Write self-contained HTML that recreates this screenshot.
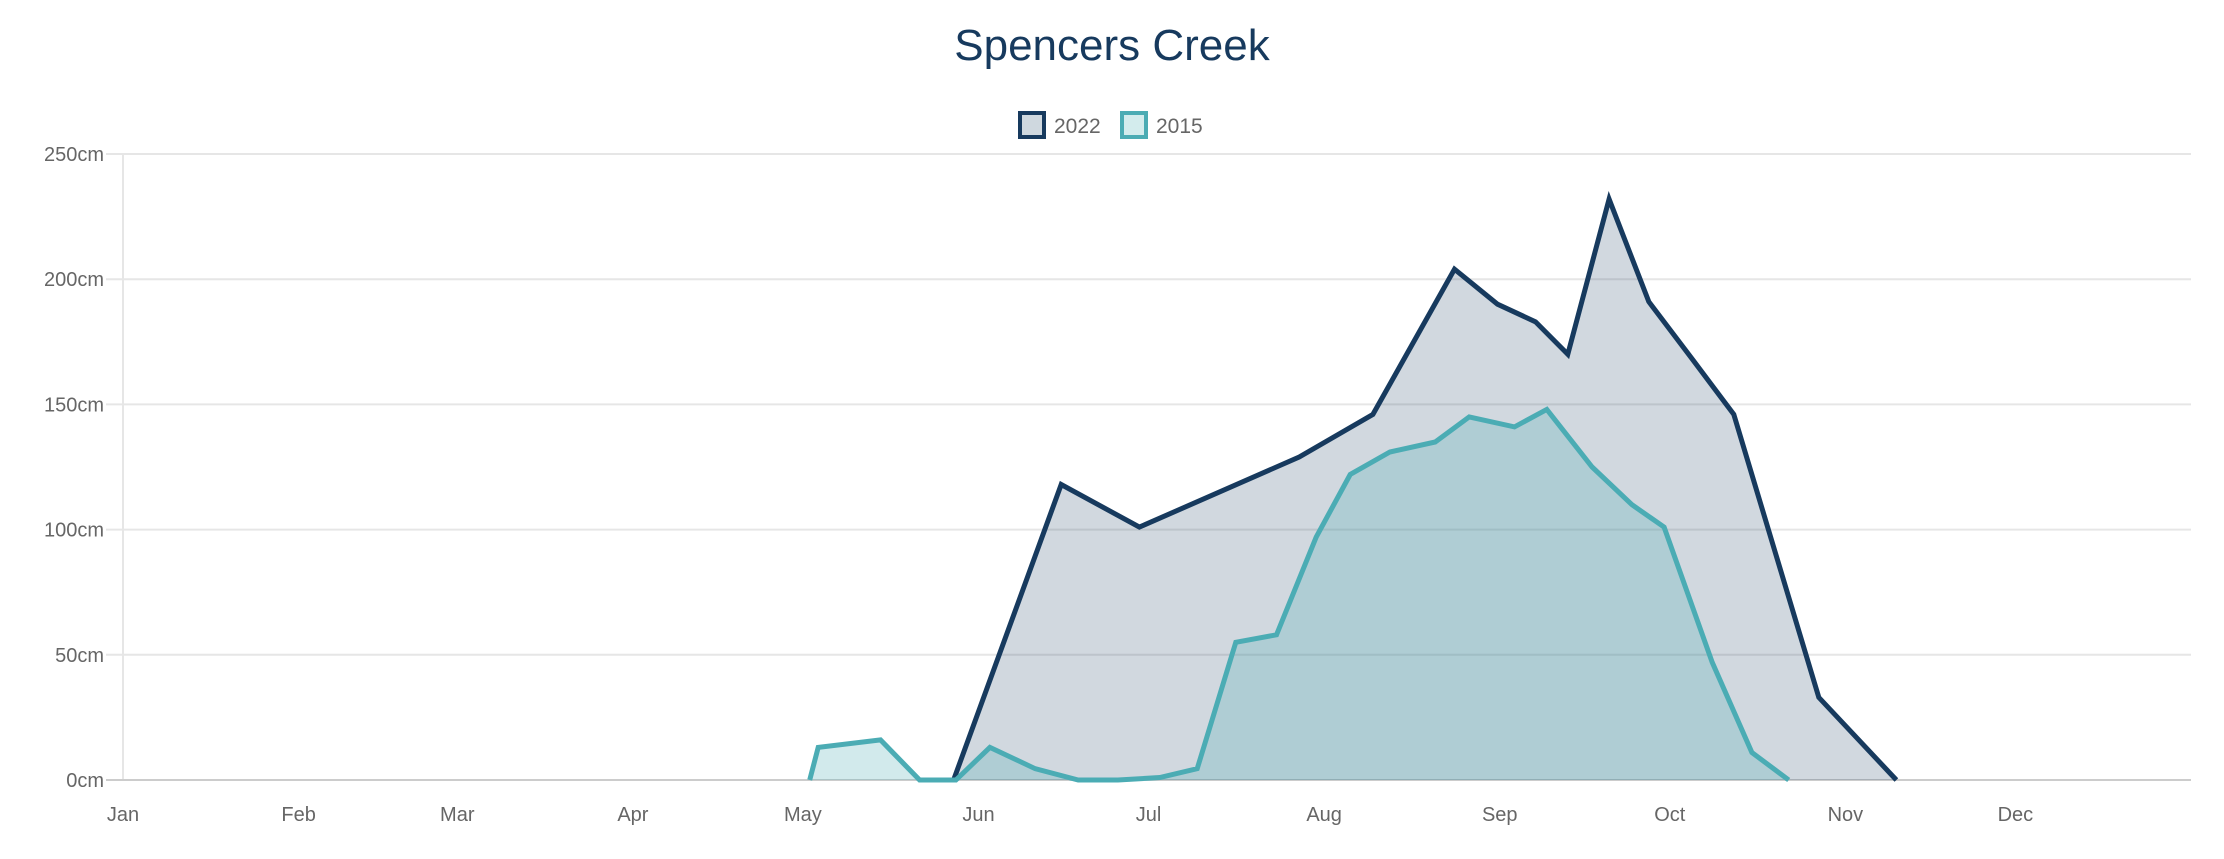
<!DOCTYPE html>
<html><head><meta charset="utf-8"><style>
html,body{margin:0;padding:0;background:#fff;}
svg{display:block;font-family:"Liberation Sans",sans-serif;}
</style></head><body>
<svg id="chart" width="2224" height="859" viewBox="0 0 2224 859" xmlns="http://www.w3.org/2000/svg">
<text x="1112" y="60" text-anchor="middle" font-size="44" fill="#173a5e">Spencers Creek</text>
<g>
 <g>
  <rect x="1020" y="113" width="24" height="24" fill="#cfd8df" stroke="#173a5e" stroke-width="4"/>
  <text x="1054" y="133" font-size="21" fill="#666">2022</text>
 </g>
 <g>
  <rect x="1122" y="113" width="24" height="24" fill="#d3eced" stroke="#4bacb4" stroke-width="4"/>
  <text x="1156" y="133" font-size="21" fill="#666">2015</text>
 </g>
</g>
<g id="grid"></g>
<g id="yaxis"></g>
<g id="xaxis"></g>
<g id="series"></g>
</svg>
<script>
const yTicks = [0, 50, 100, 150, 200, 250];
const monthLabels = ["Jan","Feb","Mar","Apr","May","Jun","Jul","Aug","Sep","Oct","Nov","Dec"];
const monthStartDays = [0,31,59,90,120,151,181,212,243,273,304,334];
const days2022 = [146.6,165.6,179.4,207.6,220.6,235,242.6,249.3,255,262.3,269.3,277,284.3,299.3,313];
const depth2022 = [0,118,101,129,146,204,190,183,170,232,191,168,146,33,0];
const days2015 = [121.2,122.7,133.7,140.6,147,153,161,168.6,175.6,183,189.6,196.4,203.6,210.6,216.6,223.6,231.6,237.6,245.6,251.3,259.3,266.3,272,280.5,287.5,294];
const depth2015 = [0,13,16,0,0,13,4.5,0,0,1,4.5,55,58,97,122,131,135,145,141,148,125,110,101,47,11,0];

const NS="http://www.w3.org/2000/svg";
const L=123,R=2191,Y0=780,YT=154;
const xS=d=>L+d*(R-L)/365;
const yS=v=>Y0-v*(Y0-YT)/250;
function mk(tag,attrs,parent){const e=document.createElementNS(NS,tag);for(const k in attrs)e.setAttribute(k,attrs[k]);parent.appendChild(e);return e;}
const grid=document.getElementById('grid'),ya=document.getElementById('yaxis'),xa=document.getElementById('xaxis'),ser=document.getElementById('series');
mk('line',{x1:L,x2:L,y1:YT,y2:Y0,stroke:'#e6e6e6','stroke-width':2},grid);
yTicks.forEach(v=>{
  const y=yS(v);
  const g=mk('line',{x1:L-17,x2:R,y1:y,y2:y,stroke:v===0?'#cccccc':'#e6e6e6','stroke-width':2},grid);
  
  
  const t=mk('text',{x:L-19,y:y+7,'text-anchor':'end','font-size':20,fill:'#666'},ya);
  t.textContent=v+'cm';
  
  
});
monthLabels.forEach((m,i)=>{
  const t=mk('text',{x:xS(monthStartDays[i]),y:821,'text-anchor':'middle','font-size':20,fill:'#666'},xa);
  t.textContent=m;
  
  
});
function drawSeries(days,vals,stroke,fill,name){
  const pts=days.map((d,i)=>xS(d).toFixed(1)+','+yS(vals[i]).toFixed(1));
  const area=mk('path',{d:'M'+xS(days[0])+','+Y0+' L'+pts.join(' L')+' L'+xS(days[days.length-1])+','+Y0+' Z',fill:fill},ser);
  
  
  const line=mk('polyline',{points:pts.join(' '),fill:'none',stroke:stroke,'stroke-width':5,'stroke-linejoin':'miter'},ser);
  
  
}
drawSeries(days2022,depth2022,'#173a5e','rgba(23,58,94,0.2)','2022');
drawSeries(days2015,depth2015,'#4bacb4','rgba(75,172,180,0.25)','2015');
</script>
</body></html>
